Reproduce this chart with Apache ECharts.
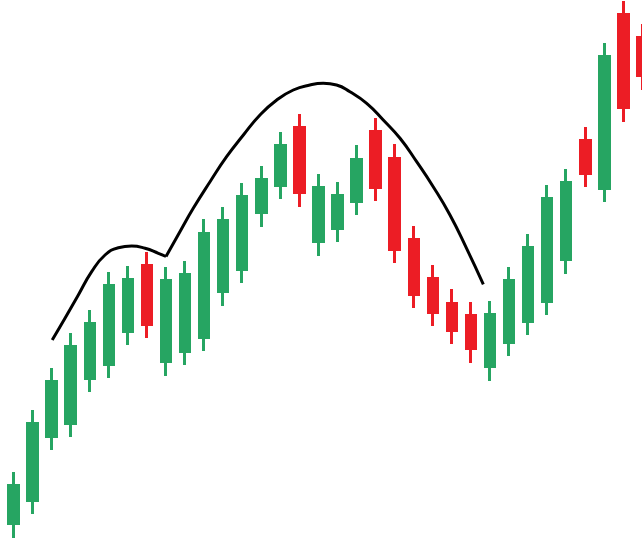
<!DOCTYPE html>
<html>
<head>
<meta charset="utf-8">
<style>
  html, body { margin: 0; padding: 0; background: #ffffff; }
  #chart { width: 642px; height: 539px; }
</style>
<script src="https://cdn.jsdelivr.net/npm/echarts@6/dist/echarts.min.js"></script>
</head>
<body>
<div id="chart"></div>
<script>
// Sessions (category axis)
const sessions = ['1','2','3','4','5','6','7','8','9','10','11','12','13','14','15','16','17',
  '18','19','20','21','22','23','24','25','26','27','28','29','30','31','32','33','34'];

// Candle values (price units)
const opens  = [15.5, 38.5, 102.5, 115.5, 160.5, 174.5, 207.5, 273.5, 177.5, 187.5, 201.5, 247.5,
  269.5, 326.5, 353.5, 411.5, 297.5, 310.5, 337.5, 407.5, 380.5, 299.5, 260.5, 235.5, 223.5,
  172.5, 196.5, 217.5, 237.5, 279.5, 398.5, 350.5, 524.5, 501.5];
const closes = [53.5, 115.5, 157.5, 192.5, 215.5, 253.5, 259.5, 214.5, 258.5, 264.5, 305.5, 318.5,
  342.5, 359.5, 393.5, 346.5, 351.5, 343.5, 379.5, 351.5, 289.5, 244.5, 226.5, 208.5, 190.5,
  224.5, 258.5, 291.5, 340.5, 356.5, 365.5, 482.5, 431.5, 463.5];
const lows   = [1, 25, 89, 102, 147, 161, 194, 201, 163, 174, 188, 233, 256, 312, 340, 332, 283,
  297, 324, 338, 276, 231, 213, 195, 176, 158, 183, 204, 224, 265, 352, 337, 417, 449];
const highs  = [67, 129, 171, 206, 229, 267, 273, 287, 272, 278, 320, 332, 356, 373, 407, 425, 365,
  357, 394, 421, 395, 313, 274, 250, 237, 238, 272, 305, 354, 370, 412, 496, 538, 515];

// Hand-drawn pattern curve (x in session index, y in price units)
const curveLeftX  = [2.03, 2.70, 3.40, 4.10, 4.80, 5.50, 6.20, 6.90, 7.60, 8.00];
const curveLeftY  = [199, 220.7, 244, 267.3, 284, 291.3, 293, 290.7, 285.7, 282.5];
const curveRightX = [8.00, 8.73, 9.43, 10.31, 11.18, 12.06, 12.93, 13.81, 14.68, 15.55, 16.25,
  16.95, 17.65, 18.53, 19.40, 20.28, 21.15, 22.02, 22.90, 23.77, 24.65];
const curveRightY = [282.5, 307.3, 330.7, 357.3, 382.3, 404, 424, 439, 449, 454, 455.7,
  454, 447.3, 435.7, 419, 400.7, 377.3, 352.3, 324, 290.7, 254.7];

const UP = '#26A562';
const DOWN = '#EC1D25';

const candleData = sessions.map((_, i) => [opens[i], closes[i], lows[i], highs[i]]);
const leftCurve = curveLeftX.map((x, i) => [x, curveLeftY[i]]);
const rightCurve = curveRightX.map((x, i) => [x, curveRightY[i]]);

const chart = echarts.init(document.getElementById('chart'), null, { renderer: 'canvas' });
chart.setOption({
  animation: false,
  backgroundColor: '#ffffff',
  grid: { left: 4, top: 0, width: 648, height: 539, containLabel: false, outerBoundsMode: 'none' },
  xAxis: [
    { type: 'category', data: sessions, boundaryGap: true, show: false },
    { type: 'value', min: -0.5, max: 33.5, show: false }
  ],
  yAxis: { type: 'value', min: 0, max: 539, show: false, splitLine: { show: false } },
  series: [
    {
      type: 'candlestick',
      xAxisIndex: 0,
      data: candleData,
      barWidth: 10,
      itemStyle: {
        color: UP, color0: DOWN,
        borderColor: UP, borderColor0: DOWN,
        borderWidth: 3
      }
    },
    {
      type: 'line', xAxisIndex: 1, data: leftCurve, smooth: true,
      symbol: 'none', lineStyle: { color: '#000000', width: 3 }, z: 5
    },
    {
      type: 'line', xAxisIndex: 1, data: rightCurve, smooth: true,
      symbol: 'none', lineStyle: { color: '#000000', width: 3 }, z: 5
    }
  ]
});
</script>
</body>
</html>
